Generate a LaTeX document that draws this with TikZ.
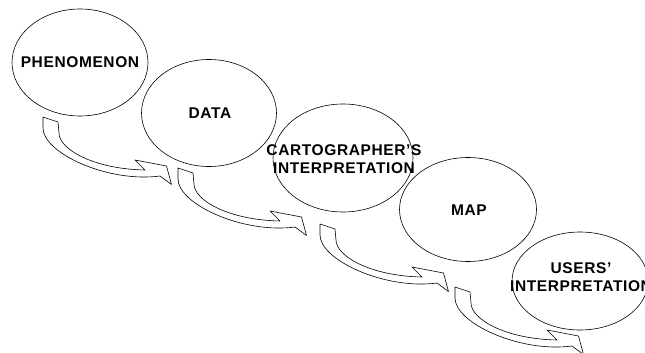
\documentclass[tikz,border=0pt]{standalone}
\usepackage{fontspec}
\newfontfamily\bubblefont[LetterSpace=4]{Liberation Sans}
\usetikzlibrary{shapes.geometric}

\begin{document}
\begin{tikzpicture}[
  x=1pt, y=-1pt,
  bubble/.style={draw, ellipse, inner sep=0pt, line width=0.6pt},
  word/.style={font=\bubblefont\bfseries\fontsize{15.5}{18}\selectfont, align=center, inner sep=0pt},
  bend arrow/.pic={
    \draw[line width=0.6pt, line join=round] (0,0) -- (15,5) -- (16,16)
      .. controls (16,32) and (50,52) .. (102,53) -- (92,43) -- (123.5,49)
      -- (128.5,67.5) -- (117,59) .. controls (65,66) and (0,36) .. (0,11) -- cycle;
  }
]
\useasboundingbox (0,0) rectangle (645,353);
\clip (0,0) rectangle (645,353);

\node[bubble, minimum width=136pt, minimum height=107pt] (phen) at (80,62.5) {};
\node[bubble, minimum width=135pt, minimum height=107pt] (data) at (209,113) {};
\node[bubble, minimum width=140pt, minimum height=108pt] (carto) at (343,158) {};
\node[bubble, minimum width=137pt, minimum height=104pt] (map) at (468,209.5) {};
\node[bubble, minimum width=136pt, minimum height=98pt] (users) at (580,281) {};

\node[word] (phentext) at (80,62) {PHENOMENON};
\node[word] (datatext) at (210,113) {DATA};
\node[word] (cartotext) at (344,159) {CARTOGRAPHER’S\\INTERPRETATION};
\node[word] (maptext) at (469,210) {MAP};
\node[word] (userstext) at (581,277) {USERS’\\INTERPRETATION};

\pic at (43,117) {bend arrow};
\pic at (178,168) {bend arrow};
\pic at (320,224) {bend arrow};
\pic at (455,287) {bend arrow};
\end{tikzpicture}
\end{document}
